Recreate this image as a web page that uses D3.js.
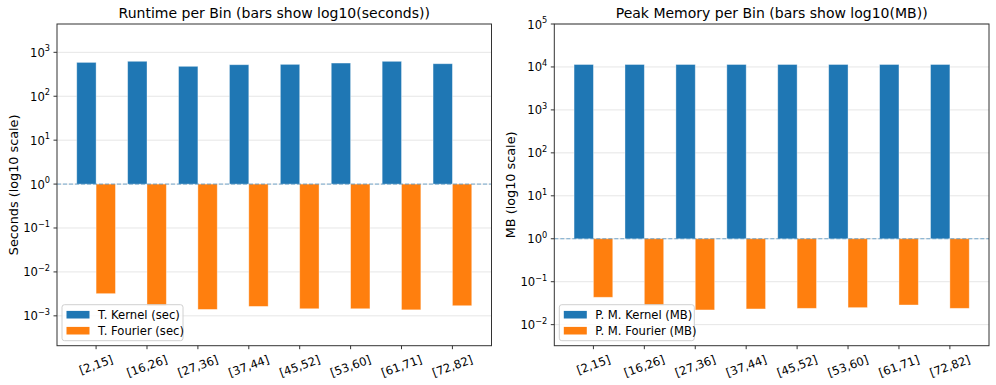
<!DOCTYPE html>
<html>
<head>
<meta charset="utf-8">
<script src="https://cdn.jsdelivr.net/npm/d3@7"></script>
<style>
  body { margin: 0; background: #fff; }
  svg { display: block; font-family: "DejaVu Sans", sans-serif; }
</style>
</head>
<body>
<svg id="chart" width="996" height="385"></svg>
<script>
// bins and measured values (bars show log10 of these)
const bins = ["[2,15]", "[16,26]", "[27,36]", "[37,44]", "[45,52]", "[53,60]", "[61,71]", "[72,82]"];
const kernelSec = [590, 625, 480, 522, 532, 570, 624, 550];
const fourierSec = [0.0032, 0.0017, 0.0014, 0.00164, 0.00145, 0.00145, 0.00137, 0.0017];
const kernelMB = [11400, 11400, 11400, 11400, 11400, 11400, 11400, 11400];
const fourierMB = [0.0434, 0.0283, 0.022, 0.0232, 0.024, 0.0249, 0.0287, 0.024];

const secTicks = [-3, -2, -1, 0, 1, 2, 3];
const mbTicks = [-2, -1, 0, 1, 2, 3, 4, 5];

const BLUE = "#1f77b4";
const ORANGE = "#ff7f0e";
const TICK_FS = 11.6;

const svg = d3.select("#chart");

function drawPanel(opts) {
  const {left, right, top, bottom, ylim, ticks, kernel, fourier, title, ylabel, names, legendW, ylabelX} = opts;
  const g = svg.append("g");
  const barW = 0.38;

  const x = d3.scaleLinear().domain([-0.768, bins.length - 1 + 0.768]).range([left, right]);
  const y = d3.scaleLinear().domain(ylim).range([bottom, top]);

  // grid
  g.selectAll("line.grid").data(ticks).enter().append("line")
    .attr("x1", left).attr("x2", right)
    .attr("y1", d => y(d)).attr("y2", d => y(d))
    .attr("stroke", "#e6e6e6").attr("stroke-width", 1);

  // bars
  const rows = bins.map((b, i) => ({i, k: Math.log10(kernel[i]), f: Math.log10(fourier[i])}));
  g.selectAll("rect.k").data(rows).enter().append("rect")
    .attr("x", d => x(d.i - barW)).attr("width", x(barW) - x(0))
    .attr("y", d => y(Math.max(0, d.k))).attr("height", d => Math.abs(y(d.k) - y(0)))
    .attr("fill", BLUE).attr("stroke", "#fff").attr("stroke-opacity", 0.45).attr("stroke-width", 0.8);
  g.selectAll("rect.f").data(rows).enter().append("rect")
    .attr("x", d => x(d.i)).attr("width", x(barW) - x(0))
    .attr("y", d => y(Math.max(0, d.f))).attr("height", d => Math.abs(y(d.f) - y(0)))
    .attr("fill", ORANGE).attr("stroke", "#fff").attr("stroke-opacity", 0.45).attr("stroke-width", 0.8);

  // baseline at 10^0
  g.append("line")
    .attr("x1", left).attr("x2", right).attr("y1", y(0)).attr("y2", y(0))
    .attr("stroke", BLUE).attr("stroke-opacity", 0.6).attr("stroke-width", 1)
    .attr("stroke-dasharray", "4,2");

  // frame
  g.append("rect")
    .attr("x", left).attr("y", top).attr("width", right - left).attr("height", bottom - top)
    .attr("fill", "none").attr("stroke", "#333").attr("stroke-width", 1);

  // y ticks
  const yt = g.selectAll("g.yt").data(ticks).enter().append("g")
    .attr("transform", d => `translate(${left},${y(d)})`);
  yt.append("line").attr("x1", -3.5).attr("x2", 0).attr("stroke", "#333");
  const ytxt = yt.append("text").attr("x", -7).attr("y", 4.5)
    .attr("text-anchor", "end").attr("font-size", TICK_FS).attr("fill", "#000");
  ytxt.append("tspan").text("10");
  ytxt.append("tspan").attr("dy", -5.5).attr("font-size", 8.2)
    .text(d => String(d).replace("-", "\u2212"));

  // x ticks
  const xt = g.selectAll("g.xt").data(bins).enter().append("g")
    .attr("transform", (d, i) => `translate(${x(i)},${bottom})`);
  xt.append("line").attr("y1", 0).attr("y2", 3.5).attr("stroke", "#333");
  const ang = 20 * Math.PI / 180;
  xt.each(function (d) {
    const t = d3.select(this).append("text")
      .attr("text-anchor", "middle").attr("dominant-baseline", "central")
      .attr("font-size", TICK_FS).attr("fill", "#000").text(d);
    const w = t.node().getComputedTextLength();
    const h = 11;
    const H = w * Math.sin(ang) + h * Math.cos(ang);
    t.attr("transform", `translate(0,${8 + H / 2}) rotate(-20)`);
  });

  // title
  g.append("text").attr("x", (left + right) / 2).attr("y", top - 6)
    .attr("text-anchor", "middle").attr("font-size", 14).attr("fill", "#000").text(title);

  // y label
  g.append("text")
    .attr("transform", `translate(${ylabelX},${(top + bottom) / 2}) rotate(-90)`)
    .attr("text-anchor", "middle").attr("dominant-baseline", "central")
    .attr("font-size", 12.8).attr("fill", "#000").text(ylabel);

  // legend
  const lx = left + 5, ly = bottom - 41;
  g.append("rect").attr("x", lx).attr("y", ly).attr("width", legendW).attr("height", 36)
    .attr("rx", 2.5).attr("fill", "#fff").attr("fill-opacity", 0.8)
    .attr("stroke", "#d0d0d0").attr("stroke-width", 1);
  [[BLUE, names[0]], [ORANGE, names[1]]].forEach(([c, n], j) => {
    const cy = ly + 10 + j * 16;
    g.append("rect").attr("x", lx + 4.5).attr("y", cy - 3.8).attr("width", 23).attr("height", 7.6).attr("fill", c);
    g.append("text").attr("x", lx + 36).attr("y", cy).attr("dominant-baseline", "central")
      .attr("font-size", TICK_FS).attr("fill", "#000").text(n);
  });
}

drawPanel({
  left: 57, right: 491.5, top: 24, bottom: 345.7,
  ylim: [-3.68, 3.645], ticks: secTicks,
  kernel: kernelSec, fourier: fourierSec,
  title: "Runtime per Bin (bars show log10(seconds))",
  ylabel: "Seconds (log10 scale)",
  names: ["T. Kernel (sec)", "T. Fourier (sec)"],
  legendW: 121, ylabelX: 13
});

drawPanel({
  left: 554.3, right: 989, top: 24, bottom: 345.7,
  ylim: [-2.49, 5], ticks: mbTicks,
  kernel: kernelMB, fourier: fourierMB,
  title: "Peak Memory per Bin (bars show log10(MB))",
  ylabel: "MB (log10 scale)",
  names: ["P. M. Kernel (MB)", "P. M. Fourier (MB)"],
  legendW: 135, ylabelX: 510
});
</script>
</body>
</html>
